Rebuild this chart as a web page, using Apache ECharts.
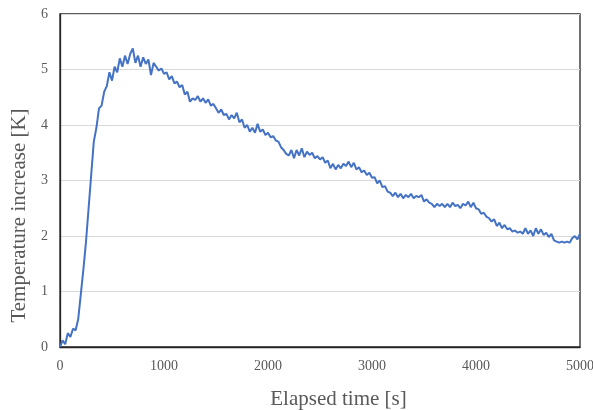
<!DOCTYPE html>
<html>
<head>
<meta charset="utf-8">
<script src="https://cdn.jsdelivr.net/npm/echarts@6/dist/echarts.min.js"></script>
<style>html,body{margin:0;padding:0;background:#fff}#c{width:593px;height:410px}</style>
</head>
<body>
<div id="c"></div>
<script>
const timeStep = 25; // seconds between samples
const temperature = [
0.00,0.12,0.05,0.25,0.18,0.33,0.30,0.50,0.95,1.40,
1.90,2.50,3.10,3.70,3.95,4.30,4.35,4.60,4.70,4.95,
4.80,5.05,4.95,5.20,5.05,5.25,5.10,5.28,5.38,5.12,
5.25,5.05,5.22,5.10,5.18,4.90,5.12,5.05,4.98,5.02,
4.92,4.95,4.82,4.88,4.75,4.78,4.68,4.72,4.55,4.60,
4.42,4.48,4.45,4.52,4.42,4.48,4.40,4.46,4.35,4.38,
4.30,4.22,4.28,4.18,4.20,4.10,4.18,4.12,4.22,4.05,
4.10,3.95,4.00,3.88,3.95,3.86,4.02,3.88,3.92,3.82,
3.86,3.78,3.80,3.72,3.70,3.60,3.55,3.48,3.45,3.55,
3.40,3.55,3.45,3.58,3.42,3.52,3.46,3.50,3.40,3.44,
3.38,3.42,3.32,3.36,3.22,3.30,3.20,3.28,3.22,3.30,
3.26,3.34,3.24,3.32,3.20,3.24,3.15,3.18,3.10,3.14,
3.05,3.06,2.95,3.00,2.88,2.90,2.80,2.78,2.72,2.78,
2.70,2.76,2.68,2.74,2.70,2.76,2.68,2.72,2.70,2.74,
2.62,2.66,2.60,2.58,2.52,2.58,2.54,2.58,2.52,2.58,
2.52,2.60,2.54,2.56,2.50,2.58,2.55,2.62,2.52,2.60,
2.50,2.48,2.40,2.42,2.35,2.32,2.26,2.30,2.18,2.24,
2.14,2.20,2.12,2.14,2.08,2.10,2.06,2.08,2.04,2.14,
2.04,2.10,2.00,2.14,2.04,2.12,2.02,2.06,1.98,2.04,
1.92,1.90,1.88,1.90,1.88,1.90,1.88,1.96,2.00,1.94,
2.04
];
const xTicks = [0, 1000, 2000, 3000, 4000, 5000];
const yTicks = [0, 1, 2, 3, 4, 5, 6];
const xTitle = 'Elapsed time [s]';
const yTitle = 'Temperature increase [K]';

const seriesData = temperature.map((v, i) => [i * timeStep, v]);
const chart = echarts.init(document.getElementById('c'), null, {renderer: 'canvas'});
const font = '"Liberation Serif", "Times New Roman", serif';
chart.setOption({
  animation: false,
  grid: {left: 60, right: 13, top: 14, bottom: 63, show: true, borderColor: '#262626', borderWidth: 1.3,
         backgroundColor: 'transparent', outerBoundsMode: 'none', containLabel: false},
  xAxis: {
    type: 'value', min: xTicks[0], max: xTicks[xTicks.length-1], interval: 1000,
    name: xTitle, nameLocation: 'middle', nameGap: 42,
    nameTextStyle: {fontFamily: font, fontSize: 21, color: '#595959', padding: [0, 0, 0, 37]},
    axisLine: {show: true, lineStyle: {color: '#262626', width: 1.3}},
    axisTick: {show: false},
    axisLabel: {fontFamily: font, fontSize: 14, color: '#595959', margin: 12, formatter: v => String(v)},
    splitLine: {show: false}
  },
  yAxis: {
    type: 'value', min: yTicks[0], max: yTicks[yTicks.length-1], interval: 1,
    name: yTitle, nameLocation: 'middle', nameGap: 25,
    nameTextStyle: {fontFamily: font, fontSize: 21, color: '#595959', padding: [0, 70, 0, 0]},
    axisLine: {show: true, lineStyle: {color: '#262626', width: 1.3}},
    axisTick: {show: false},
    axisLabel: {fontFamily: font, fontSize: 14, color: '#595959', margin: 12, formatter: v => String(v)},
    splitLine: {show: true, lineStyle: {color: '#d9d9d9', width: 1}}
  },
  series: [{
    type: 'line', data: seriesData, showSymbol: false, symbol: 'none',
    lineStyle: {color: '#4472C4', width: 2}, z: 3
  }]
});
</script>
</body>
</html>
